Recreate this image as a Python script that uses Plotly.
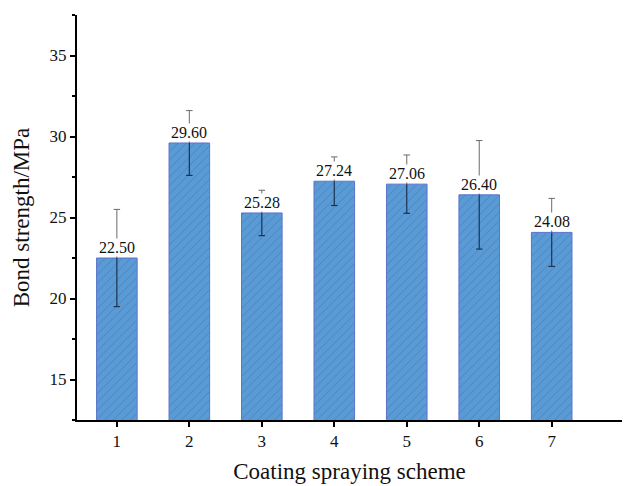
import plotly.graph_objects as go

schemes = [1, 2, 3, 4, 5, 6, 7]
strength = [22.50, 29.60, 25.28, 27.24, 27.06, 26.40, 24.08]
strength_err = [3.0, 2.0, 1.4, 1.5, 1.8, 3.35, 2.1]
value_labels = [f"{v:.2f}" for v in strength]

serif = "Liberation Serif, Times New Roman, serif"
CAP = 0.045  # half-width of an error-bar cap, in category units


def whisker(sign):
    """Line segments (stem + cap) from each bar top to top +/- its error."""
    xs, ys = [], []
    for s, v, e in zip(schemes, strength, strength_err):
        end = v + sign * e
        xs += [s, s, None, s - CAP, s + CAP, None]
        ys += [v, end, None, end, end, None]
    return xs, ys


fig = go.Figure()

fig.add_trace(go.Bar(
    x=schemes,
    y=strength,
    width=0.56,
    marker=dict(
        color="#5a9bd5",
        line=dict(color="#5b73cc", width=1),
        pattern=dict(shape="/", fgcolor="#2f5a9e", bgcolor="#5a9bd5",
                     size=6, solidity=0.12),
    ),
    hoverinfo="skip",
))

# lower half of the error bars, dark inside the bars
lx, ly = whisker(-1)
fig.add_trace(go.Scatter(x=lx, y=ly, mode="lines",
                         line=dict(color="#1d3350", width=1.2),
                         hoverinfo="skip"))

# upper half of the error bars, grey above the bars
ux, uy = whisker(+1)
fig.add_trace(go.Scatter(x=ux, y=uy, mode="lines",
                         line=dict(color="#6a6a6a", width=1),
                         hoverinfo="skip"))

# value labels sit on a white box just above each bar
for xv, yv, lab in zip(schemes, strength, value_labels):
    fig.add_annotation(
        x=xv, y=yv, text=lab, showarrow=False,
        xanchor="center", yanchor="bottom", yshift=1,
        bgcolor="white", borderpad=0,
        font=dict(family=serif, size=16, color="#111111"),
    )

fig.update_layout(
    width=625, height=486,
    margin=dict(l=77, r=3, t=15, b=66),
    paper_bgcolor="white",
    plot_bgcolor="white",
    showlegend=False,
    font=dict(family=serif, color="#111111"),
    xaxis=dict(
        range=[0.45, 7.97],
        tickmode="array", tickvals=schemes, ticktext=[str(s) for s in schemes],
        ticks="outside", ticklen=5, tickwidth=2, tickcolor="black",
        showline=True, linecolor="black", linewidth=2,
        showgrid=False, zeroline=False,
        tickfont=dict(family=serif, size=17),
        title=dict(text="Coating spraying scheme",
                   font=dict(family=serif, size=23), standoff=12),
    ),
    yaxis=dict(
        range=[12.5, 37.5],
        tickvals=[15, 20, 25, 30, 35],
        ticks="outside", ticklen=5, tickwidth=2, tickcolor="black",
        minor=dict(dtick=2.5, tick0=0, ticks="outside", ticklen=3,
                   tickwidth=1.5, tickcolor="black"),
        showline=True, linecolor="black", linewidth=2,
        showgrid=False, zeroline=False,
        tickfont=dict(family=serif, size=17),
        title=dict(text="Bond strength/MPa",
                   font=dict(family=serif, size=23), standoff=14),
    ),
)

fig.write_html("out.html")
